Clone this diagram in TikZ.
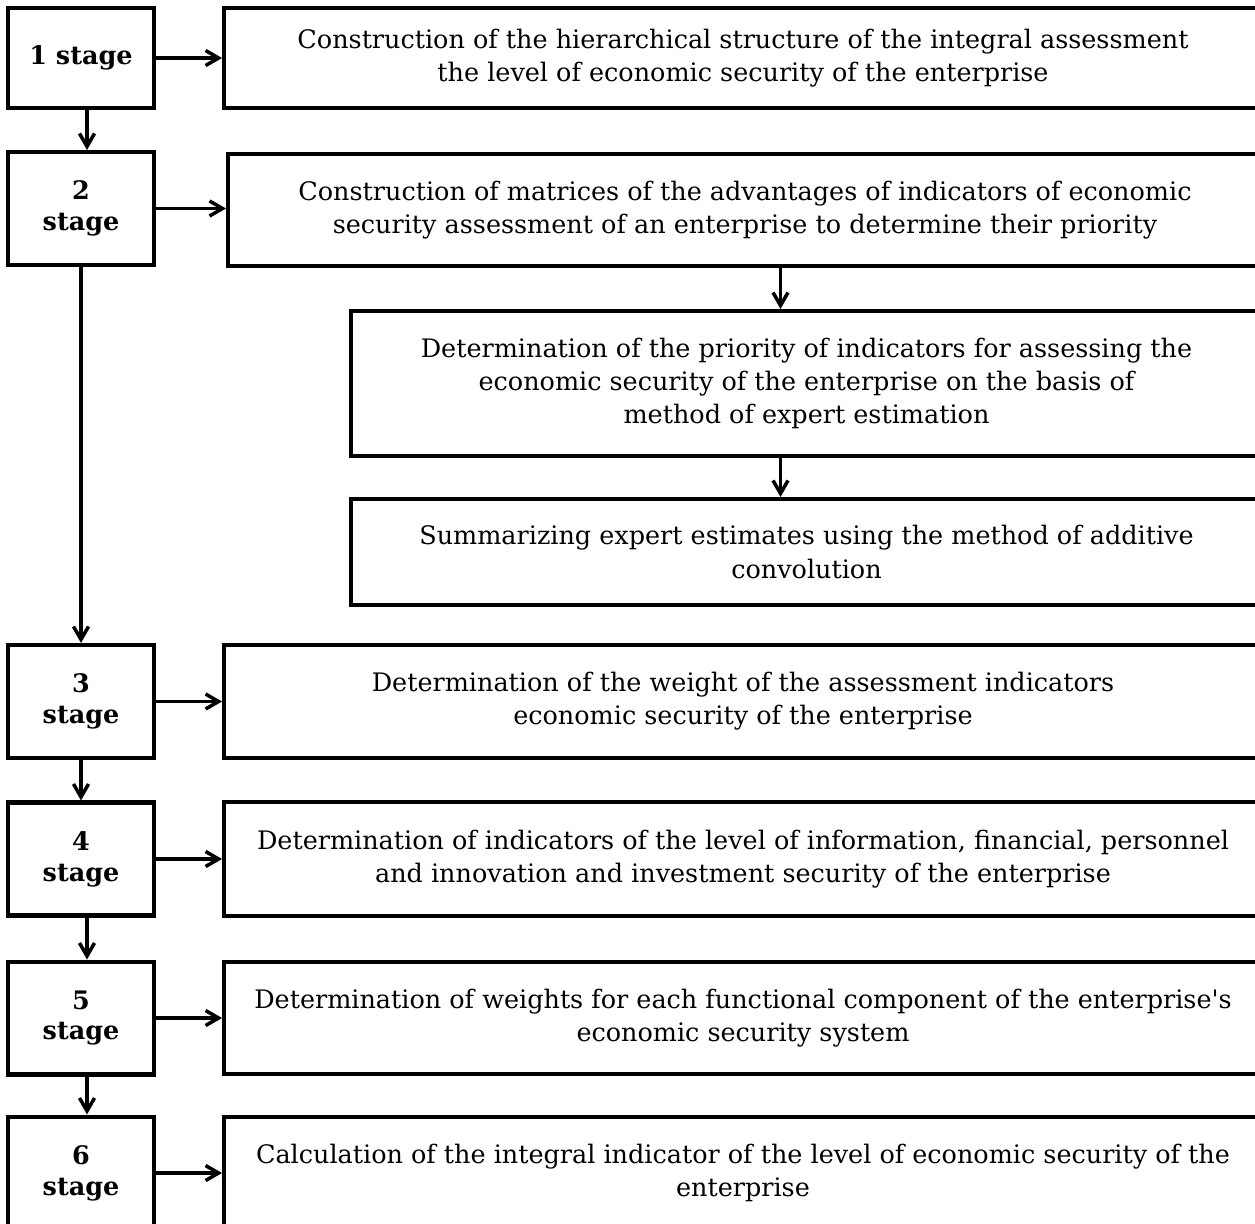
\documentclass[tikz,border=0pt]{standalone}
\usepackage{fontspec}
\setmainfont{DejaVu Serif}
\usetikzlibrary{arrows.meta, positioning}
\tikzstyle{stagebox} = [rectangle, minimum width=2.92cm, minimum height=2.26cm, text centered, align=center, draw=black, line width=2.3pt, font=\fontsize{14.5}{17.6}\selectfont\bfseries]
\tikzstyle{process} = [rectangle, minimum width=20.76cm, text centered, align=center, draw=black, line width=2.3pt, font=\fontsize{14.5}{18.8}\selectfont]
\tikzstyle{arrow} = [line width=2pt,-{Straight Barb[length=0.26cm, width=0.3cm]}]

\begin{document}
\begin{tikzpicture}[x=0.02cm, y=-0.02cm]
\useasboundingbox (0,0) rectangle (1255,1224);
\clip (0,0) rectangle (1255,1224);
% stages
\node (s1) [stagebox, minimum height=2cm] at (81,58) {1 stage};
\node (s2) [stagebox] at (81,208.5) {2\\stage};
\node (s3) [stagebox] at (81,701.5) {3\\stage};
\node (s4) [stagebox] at (81,859) {4\\stage};
\node (s5) [stagebox] at (81,1018) {5\\stage};
\node (s6) [stagebox] at (81,1173) {6\\stage};
% steps
\node (r1) [process, minimum height=2cm] at (743,58) {Construction of the hierarchical structure of the integral assessment\\the level of economic security of the enterprise};
\node (r2) [process, minimum width=20.68cm, minimum height=2.24cm] at (745,210) {Construction of matrices of the advantages of indicators of economic\\security assessment of an enterprise to determine their priority};
\node (r3) [process, minimum width=18.22cm, minimum height=2.9cm] at (806.5,383.5) {Determination of the priority of indicators for assessing the\\economic security of the enterprise on the basis of\\method of expert estimation};
\node (r4) [process, minimum width=18.22cm, minimum height=2.12cm] at (806.5,552) {Summarizing expert estimates using the method of additive\\convolution};
\node (r5) [process, minimum height=2.26cm] at (743,701.5) {Determination of the weight of the assessment indicators\\economic security of the enterprise};
\node (r6) [process, minimum height=2.28cm] at (743,859) {Determination of indicators of the level of information, financial, personnel\\and innovation and investment security of the enterprise};
\node (r7) [process, minimum height=2.24cm] at (743,1018) {Determination of weights for each functional component of the enterprise\textquotesingle s\\economic security system};
\node (r8) [process, minimum height=2.26cm] at (743,1173) {Calculation of the integral indicator of the level of economic security of the\\enterprise};
% links
\draw [arrow] (s1) -- (r1);
\draw [arrow] (s2.east) -- (s2.east -| r2.west);
\draw [arrow] (s3) -- (r5);
\draw [arrow] (s4) -- (r6);
\draw [arrow] (s5) -- (r7);
\draw [arrow] (s6) -- (r8);
\draw [arrow] ([xshift=0.12cm]s1.south) -- ([xshift=0.12cm]s2.north);
\draw [arrow] (s2) -- (s3);
\draw [arrow] (s3) -- (s4);
\draw [arrow] ([xshift=0.12cm]s4.south) -- ([xshift=0.12cm]s5.north);
\draw [arrow] ([xshift=0.12cm]s5.south) -- ([xshift=0.12cm]s6.north);
\draw [arrow] ([xshift=-0.52cm]r3.north |- r2.south) -- ([xshift=-0.52cm]r3.north);
\draw [arrow] ([xshift=-0.52cm]r4.north |- r3.south) -- ([xshift=-0.52cm]r4.north);
\end{tikzpicture}
\end{document}
